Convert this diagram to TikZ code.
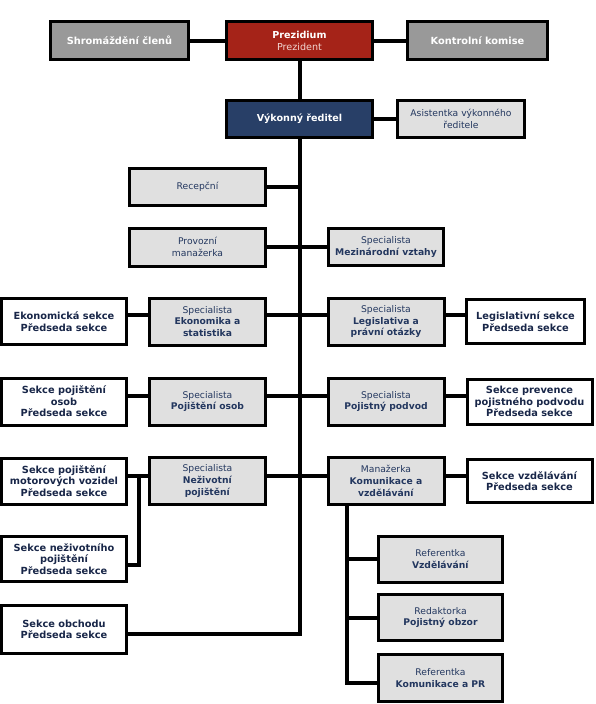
\documentclass[tikz,border=0pt]{standalone}
\usepackage{fontspec}
\setmainfont{DejaVu Sans}
\definecolor{hdrgray}{RGB}{153,153,153}
\definecolor{prezred}{RGB}{165,35,24}
\definecolor{prezpink}{RGB}{242,214,210}
\definecolor{vykblue}{RGB}{40,63,103}
\definecolor{boxgray}{RGB}{224,224,224}
\definecolor{navy}{RGB}{35,55,95}
\definecolor{deepnavy}{RGB}{24,38,72}
\begin{document}
\begin{tikzpicture}[x=1pt,y=-1pt,line width=4pt,
  box/.style={draw=black,line width=3pt,align=center,inner sep=0pt},
  hdr/.style={box,fill=hdrgray,text=white,font=\fontsize{9.8}{12}\selectfont\bfseries,minimum height=38},
  top/.style={box,text=white,font=\fontsize{9.6}{12}\selectfont,minimum width=146,minimum height=38},
  gbox/.style={box,fill=boxgray,text=navy,font=\fontsize{9.2}{11.8}\selectfont},
  spec/.style={gbox,minimum width=116,minimum height=47},
  refb/.style={gbox,minimum width=124,minimum height=46},
  sekce/.style={box,fill=white,text=deepnavy,font=\fontsize{9.8}{11.6}\selectfont\bfseries,minimum width=125,minimum height=46}]
\useasboundingbox (0,0) rectangle (595,704);
\node[hdr,minimum width=138] (shrom) at (119.5,40.5) {Shromáždění členů};
\node[top,fill=prezred] (prez) at (299.5,40.5) {\textbf{Prezidium}\\{\color{prezpink}Prezident}};
\node[hdr,minimum width=140] (komise) at (477.5,40.5) {Kontrolní komise};
\node[top,fill=vykblue,minimum height=37] (vyk) at (299.5,119) {\textbf{Výkonný ředitel}};
\node[gbox,minimum width=127,minimum height=37] (asist) at (461,119) {Asistentka výkonného\\ředitele};
\node[gbox,minimum width=136,minimum height=37] (recep) at (197.5,187) {Recepční};
\node[gbox,minimum width=136,minimum height=38] (provoz) at (197.5,247) {Provozní\\manažerka};
\node[gbox,minimum width=115,minimum height=37] (mezin) at (386,247) {Specialista\\\textbf{Mezinárodní vztahy}};
\node[spec] (ekon) at (207.5,321.5) {Specialista\\\textbf{Ekonomika a}\\\textbf{statistika}};
\node[spec] (legis) at (386,321.5) {Specialista\\\textbf{Legislativa a}\\\textbf{právní otázky}};
\node[spec] (osob) at (207.5,401.5) {Specialista\\\textbf{Pojištění osob}};
\node[spec] (podvod) at (386,401.5) {Specialista\\\textbf{Pojistný podvod}};
\node[spec] (neziv) at (207.5,481) {Specialista\\\textbf{Neživotní}\\\textbf{pojištění}};
\node[spec] (manaz) at (386,481) {Manažerka\\\textbf{Komunikace a}\\\textbf{vzdělávání}};
\node[refb] (vzdel) at (440.5,559) {Referentka\\\textbf{Vzdělávání}};
\node[refb] (obzor) at (440.5,617.5) {Redaktorka\\\textbf{Pojistný obzor}};
\node[refb,minimum height=47] (pr) at (440.5,678) {Referentka\\\textbf{Komunikace a PR}};
\node[sekce] (sEkon) at (64,321.5) {Ekonomická sekce\\Předseda sekce};
\node[sekce,minimum height=47] (sOsob) at (64,401.5) {Sekce pojištění\\osob\\Předseda sekce};
\node[sekce] (sMotor) at (64,481) {Sekce pojištění\\motorových vozidel\\Předseda sekce};
\node[sekce,minimum height=45] (sNeziv) at (64,559) {Sekce neživotního\\pojištění\\Předseda sekce};
\node[sekce,minimum height=48] (sObchod) at (64,629.5) {Sekce obchodu\\Předseda sekce};
\node[sekce,minimum width=118,minimum height=44] (sLegis) at (525.5,321.5) {Legislativní sekce\\Předseda sekce};
\node[sekce,minimum height=45] (sPrev) at (529.5,401.5) {Sekce prevence\\pojistného podvodu\\Předseda sekce};
\node[sekce,minimum height=43] (sVzdel) at (529.5,481) {Sekce vzdělávání\\Předseda sekce};
\coordinate (tEnd) at (299.5,634);
\coordinate (brk) at (139,475.5);
\coordinate (mEnd) at (347,683);
\draw (shrom) -- (prez) -- (komise);
\draw (prez) -- (vyk) -- (asist);
\draw (vyk) -- (tEnd) -- ([yshift=-4.5pt]sObchod.east);
\draw (recep) -- (recep -| tEnd);
\draw (provoz) -- (mezin);
\draw ([yshift=6.5pt]sEkon.east) -- ([yshift=6.5pt]ekon.west);
\draw ([yshift=6.5pt]ekon.east) -- ([yshift=6.5pt]legis.west);
\draw ([yshift=6.5pt]legis.east) -- ([yshift=6.5pt]sLegis.west);
\draw ([yshift=5.5pt]sOsob.east) -- ([yshift=5.5pt]osob.west);
\draw ([yshift=5.5pt]osob.east) -- ([yshift=5.5pt]podvod.west);
\draw ([yshift=5.5pt]podvod.east) -- ([yshift=5.5pt]sPrev.west);
\draw ([yshift=5.5pt]sMotor.east) -- ([yshift=5.5pt]neziv.west);
\draw (brk) |- ([yshift=-6pt]sNeziv.east);
\draw ([yshift=5.5pt]neziv.east) -- ([yshift=5.5pt]manaz.west);
\draw ([yshift=5.5pt]manaz.east) -- ([yshift=5.5pt]sVzdel.west);
\draw (manaz.south -| mEnd) -- (mEnd) -- ([yshift=-5pt]pr.west);
\draw (vzdel.west -| mEnd) -- (vzdel);
\draw (obzor.west -| mEnd) -- (obzor);
\end{tikzpicture}
\end{document}
